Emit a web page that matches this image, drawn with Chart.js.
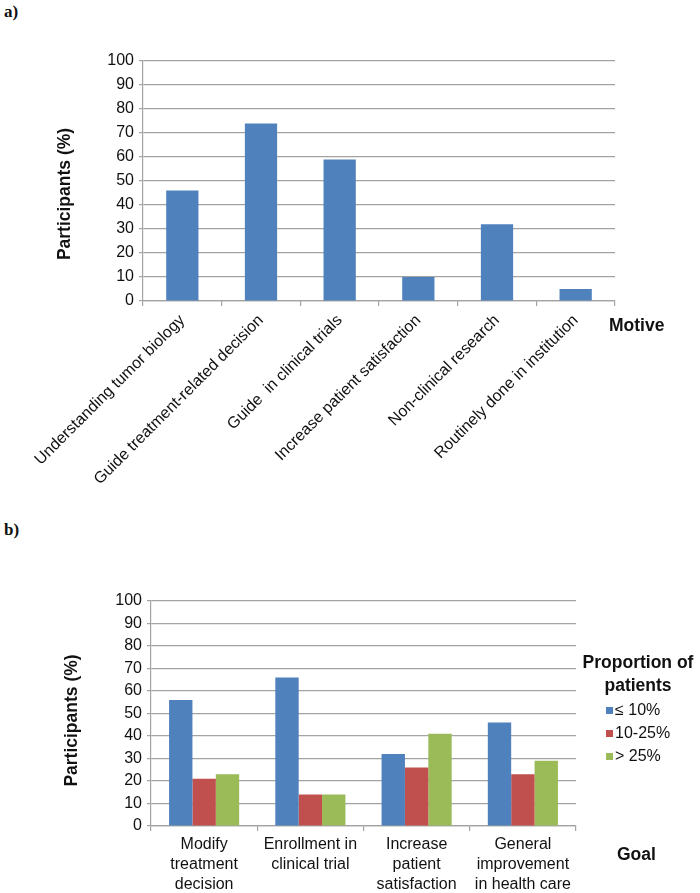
<!DOCTYPE html>
<html>
<head>
<meta charset="utf-8">
<script src="https://cdn.jsdelivr.net/npm/chart.js@4.4.0/dist/chart.umd.min.js"></script>
<style>
  body { margin: 0; background: #fff; width: 700px; height: 893px; position: relative; overflow: hidden; }
  .panel { position: absolute; left: 4px; font: bold 17px 'Liberation Serif', serif; color: #111; }
  canvas { position: absolute; left: 0; }
</style>
</head>
<body>
<div class="panel" style="top:2px">a)</div>
<div class="panel" style="top:520px">b)</div>
<canvas id="motiveChart" width="700" height="470" style="top:40px"></canvas>
<canvas id="goalChart" width="700" height="333" style="top:560px"></canvas>

<script>
// ---- data ----
const motives = ['Understanding tumor biology', 'Guide treatment-related decision', 'Guide  in clinical trials',
  'Increase patient satisfaction', 'Non-clinical research', 'Routinely done in institution'];
const motiveShare = [46, 74, 59, 10, 32, 5];

const goals = [['Modify', 'treatment', 'decision'], ['Enrollment in', 'clinical trial'],
  ['Increase', 'patient', 'satisfaction'], ['General', 'improvement', 'in health care']];
const proportionLabels = ['\u2264 10%', '10-25%', '> 25%'];
const lowShare = [56, 66, 32, 46];
const midShare = [21, 14, 26, 23];
const highShare = [23, 14, 41, 29];

const yMin = 0, yMax = 100, yStep = 10;

// ---- look ----
const COLORS = { blue: '#4f81bd', red: '#c0504d', green: '#9bbb59', grid: '#a3a3a3', text: '#111' };
const FONT = "'Liberation Sans', Arial, sans-serif";
const BOLD = 'bold 17.5px ' + FONT;
Chart.defaults.font.family = FONT;
Chart.defaults.color = COLORS.text;
Chart.defaults.animation = false;

// axis titles drawn Excel style: y title at a fixed x, x title to the right of the axis
const axisTitles = {
  id: 'axisTitles',
  afterDraw(chart, args, opts) {
    const ctx = chart.ctx;
    const area = chart.chartArea;
    ctx.save();
    ctx.font = BOLD;
    ctx.fillStyle = COLORS.text;
    ctx.textBaseline = 'middle';
    ctx.fillText(opts.xText, area.right + opts.xdx, area.bottom + opts.xdy);
    ctx.translate(opts.yx, (area.top + area.bottom) / 2 + opts.ydy);
    ctx.rotate(-Math.PI / 2);
    ctx.textAlign = 'center';
    ctx.fillText(opts.yText, 0, 0);
    ctx.restore();
  }
};

// legend with a two-line title, drawn at the right side
const sideLegend = {
  id: 'sideLegend',
  afterDraw(chart, args, opts) {
    if (!opts.title) return;
    const ctx = chart.ctx;
    ctx.save();
    ctx.fillStyle = COLORS.text;
    ctx.textBaseline = 'middle';
    ctx.textAlign = 'center';
    ctx.font = BOLD;
    opts.title.forEach((line, i) => ctx.fillText(line, opts.x + 32, opts.y + i * 23));
    ctx.textAlign = 'left';
    ctx.font = '16px ' + FONT;
    chart.data.datasets.forEach((ds, i) => {
      const y = opts.y + 48 + i * 23;
      ctx.fillStyle = ds.backgroundColor;
      ctx.fillRect(opts.x, y - 4, 7, 7);
      ctx.fillStyle = COLORS.text;
      ctx.fillText(ds.label, opts.x + 9, y);
    });
    ctx.restore();
  }
};

function yScale(width) {
  return {
    min: yMin, max: yMax,
    ticks: { stepSize: yStep, padding: 5, font: { size: 16 }, color: COLORS.text },
    grid: { color: COLORS.grid, lineWidth: 1.2, tickLength: 4 },
    border: { color: COLORS.grid, width: 1.2 },
    afterFit(scale) { scale.width = width; }
  };
}

// a) Motives
new Chart(document.getElementById('motiveChart'), {
  type: 'bar',
  data: {
    labels: motives,
    datasets: [{
      label: 'Participants',
      data: motiveShare,
      backgroundColor: COLORS.blue,
      borderWidth: 0,
      categoryPercentage: 0.41,
      barPercentage: 1
    }]
  },
  options: {
    responsive: false,
    devicePixelRatio: 1,
    layout: { padding: { left: 55, right: 85, top: 21, bottom: 0 } },
    plugins: {
      legend: { display: false },
      tooltip: { enabled: false },
      axisTitles: { xText: 'Motive', xdx: -6, xdy: 25, yText: 'Participants (%)', yx: 65, ydy: 13 }
    },
    scales: {
      x: {
        ticks: { minRotation: 45, maxRotation: 45, autoSkip: false, padding: 5, font: { size: 16 }, color: COLORS.text },
        grid: { display: true, drawOnChartArea: false, offset: true, color: COLORS.grid, lineWidth: 1.2, tickLength: 5 },
        border: { color: COLORS.grid, width: 1.2 },
        afterFit(scale) { scale.height = 209; }
      },
      y: yScale(88)
    }
  },
  plugins: [axisTitles]
});

// b) Goals
new Chart(document.getElementById('goalChart'), {
  type: 'bar',
  data: {
    labels: goals,
    datasets: [
      { label: proportionLabels[0], data: lowShare, backgroundColor: COLORS.blue },
      { label: proportionLabels[1], data: midShare, backgroundColor: COLORS.red },
      { label: proportionLabels[2], data: highShare, backgroundColor: COLORS.green }
    ]
  },
  options: {
    responsive: false,
    devicePixelRatio: 1,
    datasets: { bar: { categoryPercentage: 0.66, barPercentage: 1, borderWidth: 0 } },
    layout: { padding: { left: 63, right: 124, top: 41, bottom: 0 } },
    plugins: {
      legend: { display: false },
      tooltip: { enabled: false },
      axisTitles: { xText: 'Goal', xdx: 41, xdy: 29, yText: 'Participants (%)', yx: 72, ydy: 7 },
      sideLegend: { title: ['Proportion of', 'patients'], x: 606, y: 103 }
    },
    scales: {
      x: {
        ticks: { maxRotation: 0, autoSkip: false, padding: 4, font: { size: 16, lineHeight: 1.25 }, color: COLORS.text },
        grid: { display: true, drawOnChartArea: false, offset: true, color: COLORS.grid, lineWidth: 1.2, tickLength: 5 },
        border: { color: COLORS.grid, width: 1.2 },
        afterFit(scale) { scale.height = 67; }
      },
      y: yScale(88)
    }
  },
  plugins: [axisTitles, sideLegend]
});
</script>
</body>
</html>
